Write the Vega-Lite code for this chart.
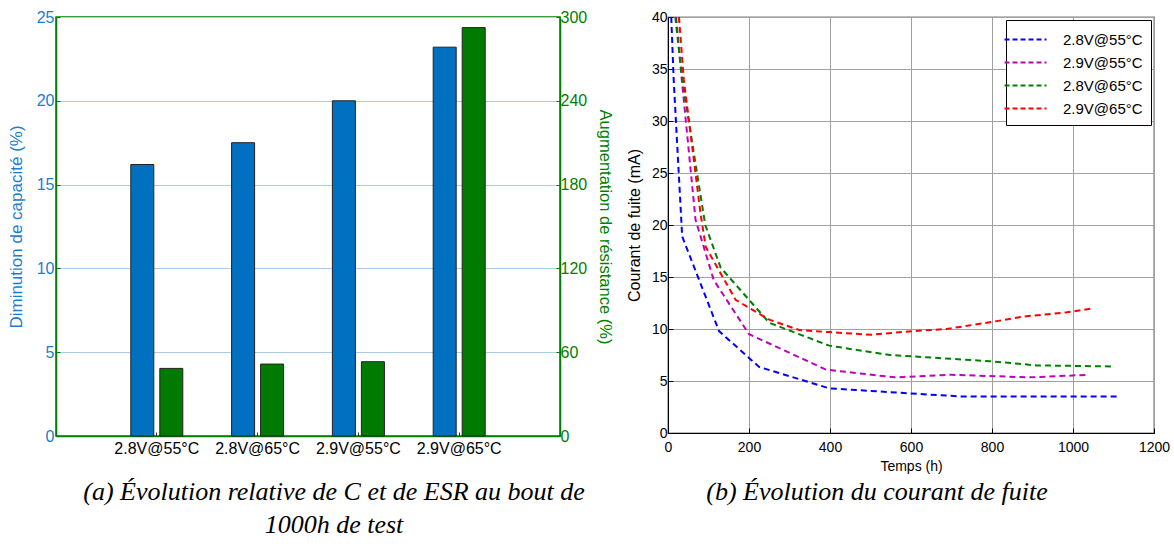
{
  "$schema": "https://vega.github.io/schema/vega-lite/v6.json",
  "padding": {"left": 6, "top": 8, "right": 5, "bottom": 5},
  "background": "white",
  "spacing": 108,
  "bounds": "flush",
  "resolve": {"scale": {"color": "independent"}, "legend": {"color": "independent"}},
  "config": {
    "font": "Liberation Sans",
    "axis": {"labelFont": "Liberation Sans", "titleFont": "Liberation Sans", "titleFontWeight": "normal", "labelFontSize": 14, "titleFontSize": 14, "labelFlush": false}
  },
  "hconcat": [
    {
      "width": 504,
      "height": 419,
      "view": {"stroke": "#008000", "strokeWidth": 1.5},
      "title": {
        "text": ["(a) Évolution relative de C et de ESR au bout de", "1000h de test"],
        "orient": "bottom",
        "frame": "group",
        "anchor": "middle",
        "font": "Liberation Serif",
        "fontStyle": "italic",
        "fontWeight": "normal",
        "fontSize": 26,
        "lineHeight": 33,
        "color": "black",
        "offset": 23,
        "dx": 26
      },
      "data": {
        "values": [
          {"cond": "2.8V@55°C", "series": "C", "value": 16.2},
          {"cond": "2.8V@55°C", "series": "ESR", "value": 48.4},
          {"cond": "2.8V@65°C", "series": "C", "value": 17.5},
          {"cond": "2.8V@65°C", "series": "ESR", "value": 51.5},
          {"cond": "2.9V@55°C", "series": "C", "value": 20.0},
          {"cond": "2.9V@55°C", "series": "ESR", "value": 53.2},
          {"cond": "2.9V@65°C", "series": "C", "value": 23.2},
          {"cond": "2.9V@65°C", "series": "ESR", "value": 292.4}
        ]
      },
      "encoding": {
        "x": {
          "field": "cond",
          "type": "nominal",
          "sort": null,
          "scale": {"paddingInner": 0.484, "paddingOuter": 0.742},
          "axis": {"title": null, "labelAngle": 0, "labelFontSize": 16, "labelColor": "black", "domainColor": "#008000", "domainWidth": 1.5, "tickColor": "#333", "tickSize": -4, "labelPadding": 8}
        },
        "xOffset": {"field": "series", "type": "nominal", "scale": {"domain": ["C", "ESR"], "paddingInner": 0.207}}
      },
      "layer": [
        {
          "transform": [{"filter": "datum.series == 'C'"}],
          "mark": {"type": "bar", "color": "#0070C0", "stroke": "#222", "strokeWidth": 1},
          "encoding": {
            "y": {
              "field": "value",
              "type": "quantitative",
              "scale": {"domain": [0, 25], "nice": false},
              "axis": {"title": "Diminution de capacité (%)", "titleFontSize": 17, "labelFontSize": 16, "values": [0, 5, 10, 15, 20, 25], "labelColor": "#1a7dd0", "titleColor": "#1a7dd0", "domainColor": "#008000", "domainWidth": 1.5, "tickColor": "#008000", "tickSize": -4, "labelPadding": 6, "titlePadding": 11, "grid": true, "gridColor": "#a9cbe8", "gridWidth": 1}
            }
          }
        },
        {
          "transform": [{"filter": "datum.series == 'ESR'"}],
          "mark": {"type": "bar", "color": "#007A00", "stroke": "#222", "strokeWidth": 1},
          "encoding": {
            "y": {
              "field": "value",
              "type": "quantitative",
              "scale": {"domain": [0, 300], "nice": false},
              "axis": {"orient": "right", "title": "Augmentation de résistance (%)", "titleFontSize": 16.5, "labelFontSize": 16, "values": [0, 60, 120, 180, 240, 300], "labelColor": "#008000", "titleColor": "#008000", "domainColor": "#008000", "domainWidth": 1.5, "tickColor": "#008000", "tickSize": -4, "labelPadding": 4, "titlePadding": 10, "grid": false}
            }
          }
        }
      ],
      "resolve": {"scale": {"y": "independent"}}
    },
    {
      "width": 486,
      "height": 416,
      "view": {"stroke": "black", "strokeWidth": 1.2},
      "title": {
        "text": "(b) Évolution du courant de fuite",
        "orient": "bottom",
        "frame": "group",
        "anchor": "middle",
        "font": "Liberation Serif",
        "fontStyle": "italic",
        "fontWeight": "normal",
        "fontSize": 26,
        "color": "black",
        "offset": 6,
        "dx": -34
      },
      "data": {
        "values": [
          {"series": "2.8V@55°C", "t": 8, "i": 40},
          {"series": "2.8V@55°C", "t": 14, "i": 34},
          {"series": "2.8V@55°C", "t": 35, "i": 18.9},
          {"series": "2.8V@55°C", "t": 126, "i": 9.8},
          {"series": "2.8V@55°C", "t": 225, "i": 6.35},
          {"series": "2.8V@55°C", "t": 398, "i": 4.3},
          {"series": "2.8V@55°C", "t": 600, "i": 3.8},
          {"series": "2.8V@55°C", "t": 730, "i": 3.5},
          {"series": "2.8V@55°C", "t": 1000, "i": 3.5},
          {"series": "2.8V@55°C", "t": 1115, "i": 3.5},
          {"series": "2.9V@55°C", "t": 20, "i": 40},
          {"series": "2.9V@55°C", "t": 34, "i": 34},
          {"series": "2.9V@55°C", "t": 68, "i": 20.5},
          {"series": "2.9V@55°C", "t": 113, "i": 14.7},
          {"series": "2.9V@55°C", "t": 200, "i": 9.5},
          {"series": "2.9V@55°C", "t": 390, "i": 6.1},
          {"series": "2.9V@55°C", "t": 560, "i": 5.35},
          {"series": "2.9V@55°C", "t": 700, "i": 5.6},
          {"series": "2.9V@55°C", "t": 894, "i": 5.35},
          {"series": "2.9V@55°C", "t": 1040, "i": 5.6},
          {"series": "2.8V@65°C", "t": 18, "i": 40},
          {"series": "2.8V@65°C", "t": 35, "i": 34},
          {"series": "2.8V@65°C", "t": 92, "i": 20},
          {"series": "2.8V@65°C", "t": 130, "i": 15.9},
          {"series": "2.8V@65°C", "t": 250, "i": 10.6},
          {"series": "2.8V@65°C", "t": 398, "i": 8.4},
          {"series": "2.8V@65°C", "t": 547, "i": 7.5},
          {"series": "2.8V@65°C", "t": 795, "i": 6.9},
          {"series": "2.8V@65°C", "t": 910, "i": 6.5},
          {"series": "2.8V@65°C", "t": 1097, "i": 6.4},
          {"series": "2.9V@65°C", "t": 27, "i": 40},
          {"series": "2.9V@65°C", "t": 39, "i": 34},
          {"series": "2.9V@65°C", "t": 80, "i": 21.2},
          {"series": "2.9V@65°C", "t": 93, "i": 17.9},
          {"series": "2.9V@65°C", "t": 167, "i": 12.8},
          {"series": "2.9V@65°C", "t": 250, "i": 10.9},
          {"series": "2.9V@65°C", "t": 324, "i": 9.9},
          {"series": "2.9V@65°C", "t": 398, "i": 9.7},
          {"series": "2.9V@65°C", "t": 502, "i": 9.45},
          {"series": "2.9V@65°C", "t": 605, "i": 9.8},
          {"series": "2.9V@65°C", "t": 688, "i": 10.0},
          {"series": "2.9V@65°C", "t": 803, "i": 10.7},
          {"series": "2.9V@65°C", "t": 878, "i": 11.2},
          {"series": "2.9V@65°C", "t": 985, "i": 11.6},
          {"series": "2.9V@65°C", "t": 1051, "i": 12.0}
        ]
      },
      "mark": {"type": "line", "strokeDash": [6, 4], "strokeWidth": 2, "clip": true},
      "encoding": {
        "x": {
          "field": "t",
          "type": "quantitative",
          "scale": {"domain": [0, 1200], "nice": false},
          "axis": {"title": "Temps (h)", "values": [0, 200, 400, 600, 800, 1000, 1200], "format": "d", "labelColor": "black", "titleColor": "black", "titleFontSize": 14, "domainColor": "black", "tickColor": "black", "tickSize": -5, "labelPadding": 12, "titlePadding": 5, "grid": true, "gridColor": "#a0a0a0", "gridWidth": 1}
        },
        "y": {
          "field": "i",
          "type": "quantitative",
          "scale": {"domain": [0, 40], "nice": false},
          "axis": {"title": "Courant de fuite (mA)", "values": [0, 5, 10, 15, 20, 25, 30, 35, 40], "labelColor": "black", "titleColor": "black", "titleFontSize": 16, "domainColor": "black", "tickColor": "black", "tickSize": -5, "labelPadding": 6, "titlePadding": 9, "grid": true, "gridColor": "#a0a0a0", "gridWidth": 1}
        },
        "color": {
          "field": "series",
          "type": "nominal",
          "sort": null,
          "scale": {"domain": ["2.8V@55°C", "2.9V@55°C", "2.8V@65°C", "2.9V@65°C"], "range": ["#0000FF", "#BF00BF", "#008000", "#FF0000"]},
          "legend": {
            "title": null,
            "orient": "top-right",
            "offset": 3,
            "fillColor": "white",
            "strokeColor": "black",
            "padding": 8,
            "symbolType": "M-2,0H2",
            "symbolSize": 441,
            "symbolStrokeWidth": 2,
            "symbolDash": [5, 3],
            "labelFontSize": 15,
            "labelColor": "black",
            "labelOffset": 26,
            "rowPadding": 3
          }
        }
      }
    }
  ]
}
